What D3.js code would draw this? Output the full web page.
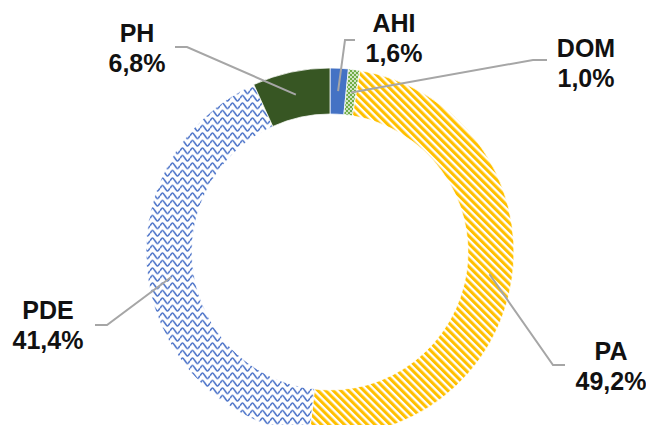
<!DOCTYPE html>
<html>
<head>
<meta charset="utf-8">
<script src="https://cdn.jsdelivr.net/npm/d3@7"></script>
<style>
  body { margin:0; background:#fff; }
  svg { display:block; }
  .lbl { font-family:"Liberation Sans", Arial, sans-serif; font-weight:bold; font-size:25px; fill:#111; text-anchor:middle; }
  .leader { fill:none; stroke:#a6a6a6; stroke-width:2px; }
</style>
</head>
<body>
<div id="chart"></div>
<script>
// data
const categories = ["AHI", "DOM", "PA", "PDE", "PH"];
const values = [1.6, 1.0, 49.2, 41.4, 6.8];

// label placement (text centre, first baseline, leader start / elbow)
const labelPos = {
  AHI: { x: 394, y: 32, lead: [[355, 40], [345, 40]] },
  DOM: { x: 586, y: 57, lead: [[547, 60], [533, 60]] },
  PA:  { x: 611, y: 360, lead: [[565, 365], [553, 365]] },
  PDE: { x: 48, y: 319, lead: [[95, 325], [107, 325]] },
  PH:  { x: 137, y: 42, lead: [[175, 47], [187, 47]] }
};

const width = 646, height = 425;
const cx = 330, cy = 252, rOut = 184, rIn = 138;

const svg = d3.select("#chart").append("svg").attr("width", width).attr("height", height);
const defs = svg.append("defs");

// PA: orange diagonal stripes
const pStripe = defs.append("pattern")
  .attr("id", "pat-pa").attr("patternUnits", "userSpaceOnUse")
  .attr("width", 5.4).attr("height", 5.4)
  .attr("patternTransform", "rotate(-45)");
pStripe.append("rect").attr("width", 5.4).attr("height", 5.4).attr("fill", "#fff");
pStripe.append("rect").attr("width", 3.1).attr("height", 5.4).attr("fill", "#ffc000");

// PDE: blue waves
const pWave = defs.append("pattern")
  .attr("id", "pat-pde").attr("patternUnits", "userSpaceOnUse")
  .attr("width", 10).attr("height", 7.5);
pWave.append("rect").attr("width", 10).attr("height", 7.5).attr("fill", "#fff");
pWave.append("path")
  .attr("d", "M0,3.75 C2.5,0 2.5,0 5,3.75 C7.5,7.5 7.5,7.5 10,3.75")
  .attr("fill", "none").attr("stroke", "#4a72c8").attr("stroke-width", 1.6);

// DOM: green with white dots
const pDots = defs.append("pattern")
  .attr("id", "pat-dom").attr("patternUnits", "userSpaceOnUse")
  .attr("width", 4).attr("height", 4);
pDots.append("rect").attr("width", 4).attr("height", 4).attr("fill", "#70ad47");
pDots.append("circle").attr("cx", 1).attr("cy", 1).attr("r", 0.9).attr("fill", "#fff");
pDots.append("circle").attr("cx", 3).attr("cy", 3).attr("r", 0.9).attr("fill", "#fff");

const fills = {
  AHI: "#4472c4",
  DOM: "url(#pat-dom)",
  PA: "url(#pat-pa)",
  PDE: "url(#pat-pde)",
  PH: "#375623"
};

const fmt = d3.formatLocale({ decimal: ",", thousands: ".", grouping: [3], currency: ["", ""] }).format(".1f");

const pie = d3.pie().sort(null).value(d => d.v);
const arcs = pie(categories.map((c, i) => ({ c, v: values[i] })));
const arc = d3.arc().innerRadius(rIn).outerRadius(rOut);

const g = svg.append("g").attr("transform", `translate(${cx},${cy})`);
g.selectAll("path.slice").data(arcs).enter().append("path")
  .attr("class", "slice")
  .attr("d", arc)
  .attr("fill", d => fills[d.data.c])
  .attr("stroke", "#fff")
  .attr("stroke-width", 0.75);

// leader lines
const line = d3.line();
svg.selectAll("path.leader").data(arcs).enter().append("path")
  .attr("class", "leader")
  .attr("d", d => {
    const p = labelPos[d.data.c];
    const c = arc.centroid(d);
    return line([p.lead[0], p.lead[1], [c[0] + cx, c[1] + cy]]);
  });

// labels
const lbl = svg.selectAll("text.lbl").data(arcs).enter().append("text")
  .attr("class", "lbl")
  .attr("x", d => labelPos[d.data.c].x)
  .attr("y", d => labelPos[d.data.c].y);
lbl.append("tspan").attr("x", d => labelPos[d.data.c].x).text(d => d.data.c);
lbl.append("tspan").attr("x", d => labelPos[d.data.c].x).attr("dy", 30).text(d => fmt(d.data.v) + "%");
</script>
</body>
</html>
